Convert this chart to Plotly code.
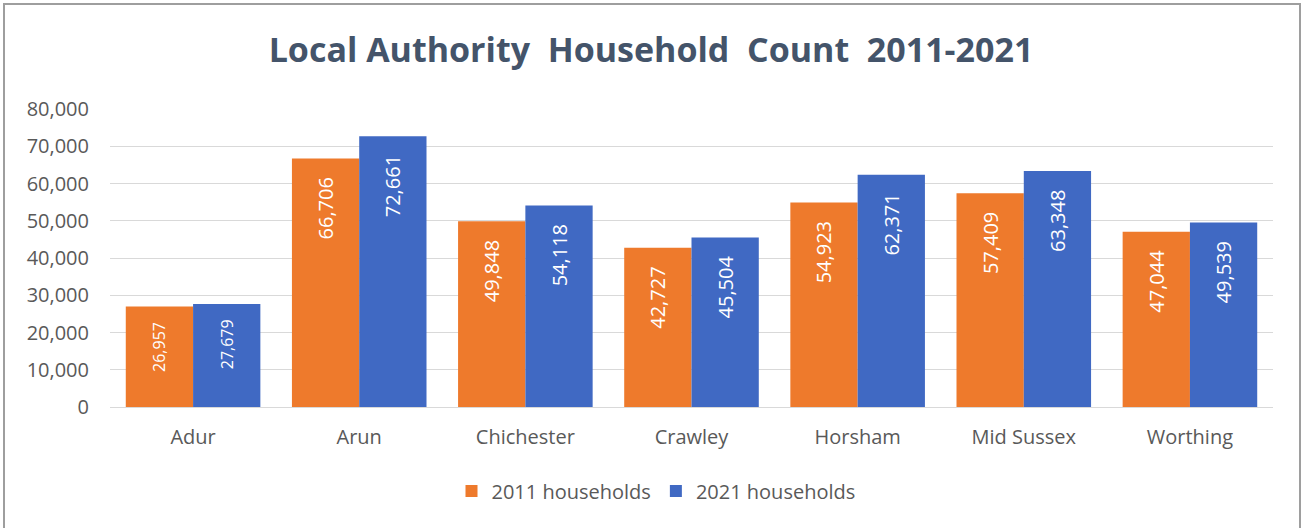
import plotly.graph_objects as go

authorities = ["Adur", "Arun", "Chichester", "Crawley", "Horsham", "Mid Sussex", "Worthing"]
households_2011 = [26957, 66706, 49848, 42727, 54923, 57409, 47044]
households_2021 = [27679, 72661, 54118, 45504, 62371, 63348, 49539]
y_ticks = [0, 10000, 20000, 30000, 40000, 50000, 60000, 70000, 80000]

W, H = 1304, 528
L, R, T, B = 110, 31, 109, 121
FONT = "Open Sans, sans-serif"
PAD = "\u00a0\u00a0\u00a0"  # push labels down from the bar end like Excel does


def label_sizes(values):
    # Excel shrinks the label on the short Adur bars
    return [16 if v < 30000 else 20 for v in values]


def bar_trace(values, name, color):
    return go.Bar(x=authorities, y=values, name=name,
                  marker=dict(color=color, line=dict(width=0)),
                  text=[f"{v:,}{PAD}" for v in values],
                  textposition="inside", insidetextanchor="end", textangle=-90,
                  textfont=dict(color="white", size=label_sizes(values), family=FONT),
                  hoverinfo="x+y")


fig = go.Figure()
fig.add_trace(bar_trace(households_2011, "2011 households", "#EE7A2C"))
fig.add_trace(bar_trace(households_2021, "2021 households", "#4069C3"))

ph = H - T - B
pw = W - L - R
fig.add_shape(type="rect", xref="paper", yref="paper",
              x0=(4 - L) / pw, x1=(1300 - L) / pw,
              y0=(H - B - 540) / ph, y1=(H - B - 4) / ph,
              line=dict(color="#9E9E9E", width=2), layer="below")

fig.update_layout(
    width=W, height=H,
    margin=dict(l=L, r=R, t=T, b=B),
    paper_bgcolor="white", plot_bgcolor="white",
    title=dict(text="<b>Local Authority  Household  Count  2011-2021</b>",
               x=651 / W, xref="container", xanchor="center",
               y=1 - 50 / H, yanchor="middle", yref="container",
               font=dict(family=FONT, size=34, color="#44546A")),
    barmode="group", bargap=0.19, bargroupgap=0,
    font=dict(family=FONT, color="#595959", size=20),
    xaxis=dict(showgrid=False, showline=True, linecolor="#D9D9D9", linewidth=1,
               ticks="", tickfont=dict(size=20, color="#595959"), ticklabelstandoff=12),
    yaxis=dict(range=[0, 80000], tickvals=y_ticks,
               ticktext=[f"{v:,}" for v in y_ticks],
               showgrid=True, gridcolor="#D9D9D9", gridwidth=1,
               zeroline=False, showline=False, ticks="",
               tickfont=dict(size=20, color="#595959"), ticklabelstandoff=20),
    legend=dict(orientation="h", x=656 / W, xanchor="center", xref="container",
                y=1 - 491 / H, yanchor="middle", yref="container",
                font=dict(size=20, color="#595959")),
)

fig.write_html("out.html", config={"displayModeBar": False},
               post_script="document.body.style.margin='0';")
